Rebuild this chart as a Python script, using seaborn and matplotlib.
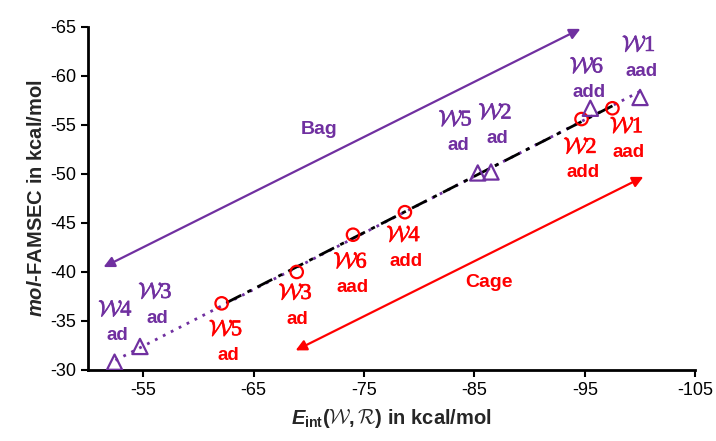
import numpy as np
import pandas as pd
import seaborn as sns
import matplotlib.pyplot as plt
import matplotlib.patheffects as pe

# ---- data ----
# Bag (purple triangles)
bag_names = ['1', '2', '3', '4', '5', '6']
bag_kind = ['aad', 'ad', 'ad', 'ad', 'ad', 'add']
bag_eint = [-100.0, -86.5, -54.7, -52.4, -85.3, -95.5]
bag_famsec = [-57.8, -50.2, -32.4, -30.8, -50.1, -56.7]

# Cage (red circles)
cage_names = ['1', '2', '3', '4', '5', '6']
cage_kind = ['aad', 'add', 'ad', 'add', 'ad', 'aad']
cage_eint = [-97.5, -94.7, -68.9, -78.7, -62.1, -74.0]
cage_famsec = [-56.7, -55.6, -40.0, -46.1, -36.8, -43.8]

xticks = [-55, -65, -75, -85, -95, -105]
yticks = [-30, -35, -40, -45, -50, -55, -60, -65]

# label anchors (x, y of the W line), same order as names
bag_lab = [(-99.9, -63.1), (-86.9, -56.2), (-56.1, -37.9),
           (-52.5, -36.1), (-83.3, -55.5), (-95.2, -60.9)]
cage_lab = [(-98.8, -54.8), (-94.6, -52.7), (-68.8, -37.8),
            (-78.6, -43.7), (-62.5, -34.1), (-73.8, -41.0)]

purple = '#7030A0'
red = '#FF0000'

sns.set_style('ticks')
plt.rcParams['font.family'] = ['Liberation Sans', 'DejaVu Sans']
plt.rcParams['axes.unicode_minus'] = False
plt.rcParams['mathtext.fontset'] = 'custom'
plt.rcParams['mathtext.rm'] = 'Liberation Sans:bold'
plt.rcParams['mathtext.bf'] = 'Liberation Sans:bold'
plt.rcParams['mathtext.it'] = 'Liberation Sans:italic:bold'
plt.rcParams['mathtext.cal'] = 'cmsy10'
plt.rcParams['mathtext.sf'] = 'Liberation Serif'  # used for the digits after W

bag = pd.DataFrame({'Eint': bag_eint, 'FAMSEC': bag_famsec})
cage = pd.DataFrame({'Eint': cage_eint, 'FAMSEC': cage_famsec})

fig, ax = plt.subplots(figsize=(7.16, 4.41), dpi=100)
fig.subplots_adjust(left=0.123, right=0.971, bottom=0.161, top=0.939)

# fit lines
sns.regplot(data=bag, x='Eint', y='FAMSEC', scatter=False, ci=None, ax=ax,
            color=purple, line_kws=dict(ls=(0, (1, 2.2)), lw=2))
sns.regplot(data=cage, x='Eint', y='FAMSEC', scatter=False, ci=None, ax=ax,
            color='black', line_kws=dict(ls=(0, (6, 2.5, 1.5, 2.5)), lw=2))

# markers
sns.scatterplot(data=cage, x='Eint', y='FAMSEC', marker='o', s=80,
                facecolor='none', edgecolor=red, linewidth=1.6, ax=ax, zorder=4)
sns.scatterplot(data=bag, x='Eint', y='FAMSEC', marker='^', s=120,
                facecolor='none', edgecolor=purple, linewidth=1.6, ax=ax, zorder=4)

# point labels
for names, kinds, labs, col in [(bag_names, bag_kind, bag_lab, purple),
                                (cage_names, cage_kind, cage_lab, red)]:
    for n, k, (lx, ly) in zip(names, kinds, labs):
        ax.text(lx, ly, r'$\mathcal{W}\mathsf{%s}$' % n, color=col,
                fontsize=16, ha='center', va='center',
                path_effects=[pe.withStroke(linewidth=0.5, foreground=col)])
        ax.text(lx - 0.2, ly + 2.6, k, color=col, fontsize=13.5,
                fontweight='bold', ha='center', va='center')

# Bag / Cage arrows
ax.annotate('', xy=(-94.6, -64.8), xytext=(-51.4, -40.5),
            arrowprops=dict(arrowstyle='<|-|>', color=purple, lw=1.6,
                            mutation_scale=16, shrinkA=0, shrinkB=0))
ax.annotate('', xy=(-100.3, -49.7), xytext=(-68.8, -32.0),
            arrowprops=dict(arrowstyle='<|-|>', color=red, lw=1.6,
                            mutation_scale=16, shrinkA=0, shrinkB=0))
ax.text(-70.9, -54.5, 'Bag', color=purple, fontsize=14, fontweight='bold',
        ha='center', va='center')
ax.text(-86.3, -38.9, 'Cage', color=red, fontsize=14, fontweight='bold',
        ha='center', va='center')

ax.set_xlim(-50, -105)
ax.set_ylim(-30, -65)
ax.set_xticks(xticks)
ax.set_yticks(yticks)
ax.tick_params(labelsize=13, length=5, width=1.5, colors='black')
for s in ['left', 'bottom']:
    ax.spines[s].set_linewidth(2)
    ax.spines[s].set_color('black')
sns.despine(ax=ax)

ax.set_xlabel(r'$E_{\mathrm{int}}(\mathcal{W},\mathcal{R})$ in kcal/mol',
              fontsize=14.5, fontweight='bold', labelpad=6)
ax.set_ylabel(r'$mol$-FAMSEC in kcal/mol', fontsize=14.5,
              fontweight='bold', labelpad=3)

plt.savefig('out.png', dpi=100)
